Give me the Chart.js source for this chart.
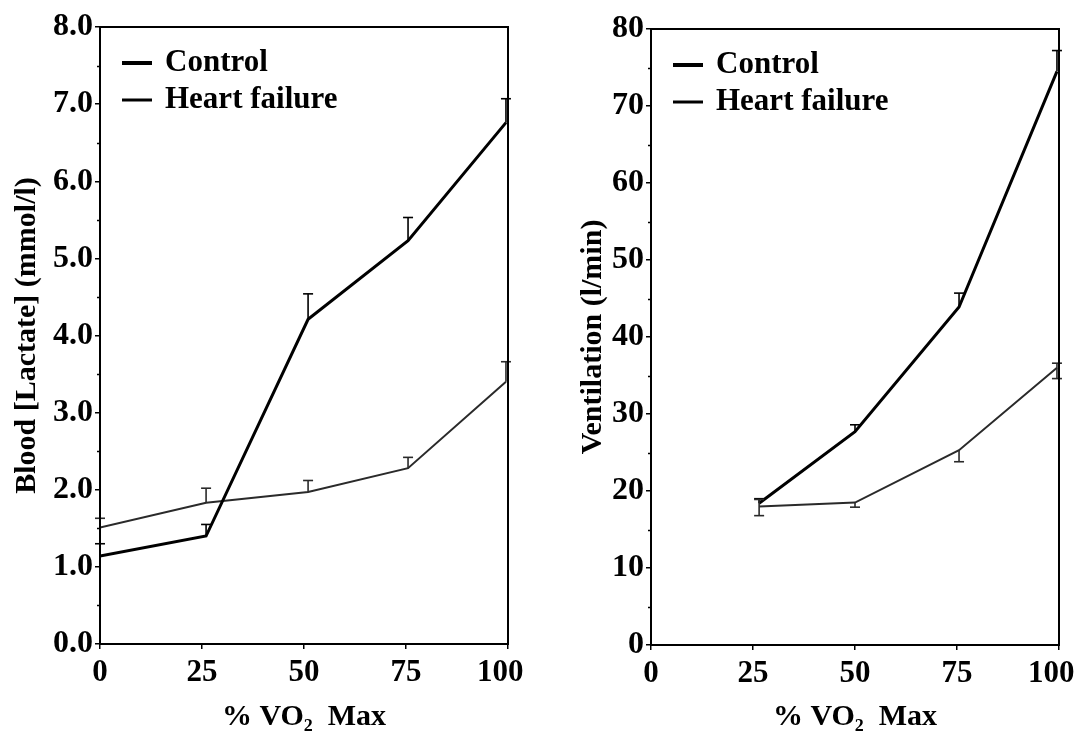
<!DOCTYPE html>
<html>
<head>
<meta charset="utf-8">
<script src="https://cdn.jsdelivr.net/npm/chart.js@4.4.0/dist/chart.umd.min.js"></script>
<style>
  html, body { margin: 0; padding: 0; background: #fff; }
  #wrap { position: relative; width: 1081px; height: 742px; overflow: hidden; }
  canvas { position: absolute; top: 0; }
</style>
</head>
<body>
<div id="wrap">
  <canvas id="lactate" width="540" height="742" style="left:0"></canvas>
  <canvas id="vent" width="541" height="742" style="left:540px"></canvas>
</div>
<script>
// ---- data ----
const seriesNames = ['Control', 'Heart failure'];
const xTickValues = [0, 25, 50, 75, 100];
const xTickLabels = ['0', '25', '50', '75', '100'];

// Blood lactate (mmol/l) against % VO2 max
const lactateX = [0, 26, 51, 75.5, 99.5];
const lactateControl = [1.14, 1.40, 4.21, 5.23, 6.76];
const lactateControlLo = [1.14, 1.40, 4.21, 5.23, 6.76];
const lactateControlHi = [1.30, 1.55, 4.54, 5.53, 7.07];
const lactateHF = [1.51, 1.83, 1.97, 2.28, 3.40];
const lactateHFLo = [1.51, 1.83, 1.97, 2.28, 3.40];
const lactateHFHi = [1.63, 2.02, 2.12, 2.42, 3.66];
const lactateTickLabels = ['0.0', '1.0', '2.0', '3.0', '4.0', '5.0', '6.0', '7.0', '8.0'];

// Ventilation (l/min) against % VO2 max
const ventX = [26.5, 50, 75.5, 99.5];
const ventControl = [18.4, 27.7, 43.9, 74.5];
const ventControlLo = [18.4, 27.7, 43.9, 74.5];
const ventControlHi = [19.0, 28.6, 45.7, 77.2];
const ventHF = [18.0, 18.5, 25.3, 36.0];
const ventHFLo = [16.8, 17.9, 23.8, 34.6];
const ventHFHi = [18.9, 18.5, 25.3, 36.6];
const ventTickLabels = ['0', '10', '20', '30', '40', '50', '60', '70', '80'];

// ---- styling ----
const FONT = 'Liberation Serif, Times New Roman, serif';
const INK = '#000';
const CONTROL_W = 3;
const HF_W = 2;
const HF_COLOR = '#2a2a2a';

function toPoints(xs, ys) { return xs.map((x, i) => ({ x: x, y: ys[i] })); }

// Frame, minor ticks, error whiskers and the inset legend
const decorations = {
  id: 'decorations',
  afterDatasetsDraw(chart, args, opts) {
    const { ctx, scales } = chart;
    const xs = scales.x, ys = scales.y;
    ctx.save();
    chart.data.datasets.forEach((ds, di) => {
      const err = opts.errors[di];
      ctx.strokeStyle = ds.borderColor;
      ctx.lineWidth = 1.6;
      ds.data.forEach((p, i) => {
        const px = xs.getPixelForValue(p.x);
        const lo = ys.getPixelForValue(err.lo[i]);
        const hi = ys.getPixelForValue(err.hi[i]);
        ctx.beginPath();
        ctx.moveTo(px, lo); ctx.lineTo(px, hi);
        ctx.stroke();
        [[err.lo[i], lo], [err.hi[i], hi]].forEach(([v, py]) => {
          if (v !== p.y) {
            ctx.beginPath();
            ctx.moveTo(px - 5, py); ctx.lineTo(px + 5, py);
            ctx.stroke();
          }
        });
      });
    });
    ctx.restore();
  },
  afterDraw(chart, args, opts) {
    const { ctx, chartArea: a, scales } = chart;
    const ys = scales.y;
    ctx.save();
    // frame
    ctx.strokeStyle = INK;
    ctx.lineWidth = 2;
    ctx.strokeRect(a.left, a.top, a.right - a.left, a.bottom - a.top);
    // minor ticks on the value axis
    ctx.lineWidth = 1.5;
    for (let v = ys.min + opts.minorStep; v < ys.max; v += opts.minorStep * 2) {
      const py = Math.round(ys.getPixelForValue(v)) + 0.5;
      ctx.beginPath();
      ctx.moveTo(a.left - 3, py); ctx.lineTo(a.left, py);
      ctx.stroke();
    }
    // legend
    ctx.font = 'bold 31px ' + FONT;
    ctx.fillStyle = INK;
    ctx.textBaseline = 'middle';
    chart.data.datasets.forEach((ds, i) => {
      const y = a.top + opts.legendTop + i * opts.legendGap;
      const x0 = a.left + opts.legendLeft;
      ctx.strokeStyle = INK;
      ctx.lineWidth = i === 0 ? 4 : 3;
      ctx.beginPath();
      ctx.moveTo(x0, y); ctx.lineTo(x0 + 30, y);
      ctx.stroke();
      ctx.fillText(ds.label, x0 + 43, y);
    });
    ctx.restore();
  }
};

function makeChart(id, cfg) {
  return new Chart(document.getElementById(id), {
    type: 'line',
    data: {
      datasets: [
        { label: seriesNames[0], data: toPoints(cfg.x, cfg.control), borderColor: INK,
          borderWidth: CONTROL_W, pointRadius: 0, tension: 0, fill: false },
        { label: seriesNames[1], data: toPoints(cfg.x, cfg.hf), borderColor: HF_COLOR,
          borderWidth: HF_W, pointRadius: 0, tension: 0, fill: false }
      ]
    },
    options: {
      responsive: false,
      animation: false,
      events: [],
      layout: { padding: cfg.padding },
      plugins: {
        legend: { display: false },
        tooltip: { enabled: false },
        decorations: {
          errors: cfg.errors,
          minorStep: cfg.minorStep,
          legendLeft: cfg.legendLeft,
          legendTop: cfg.legendTop,
          legendGap: 37
        }
      },
      scales: {
        x: {
          type: 'linear', min: 0, max: 100,
          afterFit: s => { s.height = cfg.xHeight; s.paddingLeft = 0; s.paddingRight = 0; },
          afterBuildTicks: s => { s.ticks = xTickValues.map(v => ({ value: v })); },
          ticks: {
            // the end label sits a little inside the frame corner
            callback: (v, i) => xTickLabels[i] + (i === xTickLabels.length - 1 ? '\u2002' : ''),
            font: { family: FONT, size: 31, weight: 'bold' }, color: INK, padding: 5
          },
          grid: { drawOnChartArea: false, tickLength: 5, color: INK, lineWidth: 1.5 },
          border: { display: false },
          title: {
            display: true, text: '% VO\u2082  Max', color: INK,
            font: { family: FONT, size: 30, weight: 'bold' },
            padding: { top: 0, bottom: 7 }
          }
        },
        y: {
          type: 'linear', min: 0, max: cfg.yMax,
          afterFit: s => { s.width = cfg.yWidth; s.paddingTop = 0; s.paddingBottom = 0; },
          ticks: {
            stepSize: cfg.yStep,
            callback: (v, i) => cfg.yLabels[i],
            font: { family: FONT, size: 32, weight: 'bold' }, color: INK, padding: 2
          },
          grid: { drawOnChartArea: false, tickLength: 5, color: INK, lineWidth: 1.5 },
          border: { display: false },
          title: {
            display: true, text: cfg.yTitle, color: INK,
            font: { family: FONT, size: 30, weight: 'bold' },
            padding: { top: cfg.yTitlePad, bottom: 0 }
          }
        }
      }
    },
    plugins: [decorations]
  });
}

makeChart('lactate', {
  x: lactateX, control: lactateControl, hf: lactateHF,
  errors: [
    { lo: lactateControlLo, hi: lactateControlHi },
    { lo: lactateHFLo, hi: lactateHFHi }
  ],
  yMax: 8, yStep: 1, minorStep: 0.5, yLabels: lactateTickLabels,
  yTitle: 'Blood [Lactate] (mmol/l)', yTitlePad: 9,
  padding: { top: 27, right: 32, left: 0, bottom: 0 },
  yWidth: 100, xHeight: 98,
  legendLeft: 22, legendTop: 36
});

makeChart('vent', {
  x: ventX, control: ventControl, hf: ventHF,
  errors: [
    { lo: ventControlLo, hi: ventControlHi },
    { lo: ventHFLo, hi: ventHFHi }
  ],
  yMax: 80, yStep: 10, minorStep: 5, yLabels: ventTickLabels,
  yTitle: 'Ventilation (l/min)', yTitlePad: 35,
  padding: { top: 29, right: 22, left: 0, bottom: 0 },
  yWidth: 111, xHeight: 97,
  legendLeft: 22, legendTop: 36
});
</script>
</body>
</html>
